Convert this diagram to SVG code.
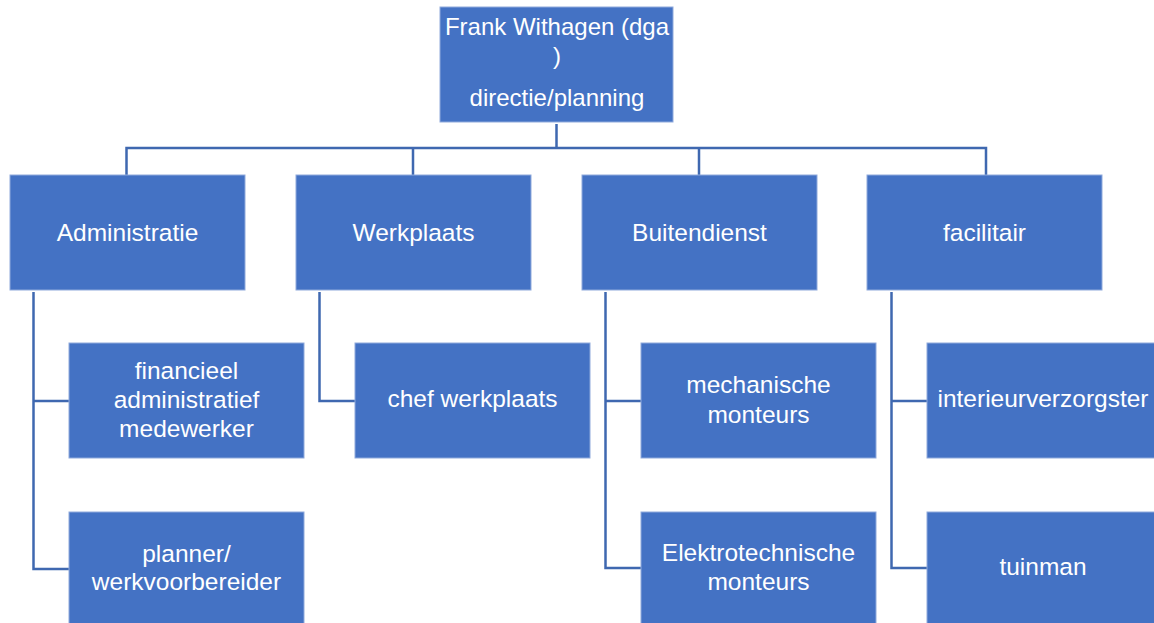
<svg xmlns="http://www.w3.org/2000/svg" width="1154" height="623" viewBox="0 0 1154 623">
<style>
.box{fill:#4472C4;stroke:#8FAADC;stroke-width:1}
.t{fill:#FFFFFF;font-family:"Liberation Sans",Arial,sans-serif;font-size:24.5px;text-anchor:middle}
.top{font-size:24px}
.c{fill:none;stroke:#3F68B0;stroke-width:2.5}
</style>
<rect width="1154" height="623" fill="#FFFFFF"/>
<g id="connectors">
<path class="c" d="M556.5 124V148M126.5 175V148H986V175M413 148V175M699 148V175"/>
<path class="c" d="M33.5 292V569H69M33.5 401H69"/>
<path class="c" d="M319.5 292V401H355"/>
<path class="c" d="M605.5 292V568H641M605.5 401H641"/>
<path class="c" d="M891.5 292V568H927M891.5 401H927"/>
</g>
<g id="n-top"><rect class="box" x="440" y="7" width="233" height="115"/>
<text class="t top" x="557" y="35">Frank Withagen (dga</text><text class="t top" x="557" y="64">)</text><text class="t top" x="557" y="106">directie/planning</text></g>
<g id="n-admin"><rect class="box" x="10" y="175" width="235" height="115"/><text class="t" x="127.5" y="241">Administratie</text></g>
<g id="n-werkplaats"><rect class="box" x="296" y="175" width="235" height="115"/><text class="t" x="413.5" y="241">Werkplaats</text></g>
<g id="n-buitendienst"><rect class="box" x="582" y="175" width="235" height="115"/><text class="t" x="699.5" y="241">Buitendienst</text></g>
<g id="n-facilitair"><rect class="box" x="867" y="175" width="235" height="115"/><text class="t" x="984.5" y="241">facilitair</text></g>
<g id="n-financieel"><rect class="box" x="69" y="343" width="235" height="115"/>
<text class="t" x="186.5" y="379">financieel</text><text class="t" x="186.5" y="408">administratief</text><text class="t" x="186.5" y="437">medewerker</text></g>
<g id="n-planner"><rect class="box" x="69" y="512" width="235" height="115"/>
<text class="t" x="186.5" y="562">planner/</text><text class="t" x="186.5" y="590">werkvoorbereider</text></g>
<g id="n-chef"><rect class="box" x="355" y="343" width="235" height="115"/><text class="t" x="472.5" y="407">chef werkplaats</text></g>
<g id="n-mech"><rect class="box" x="641" y="343" width="235" height="115"/>
<text class="t" x="758.5" y="393">mechanische</text><text class="t" x="758.5" y="423">monteurs</text></g>
<g id="n-elektro"><rect class="box" x="641" y="512" width="235" height="115"/>
<text class="t" x="758.5" y="561">Elektrotechnische</text><text class="t" x="758.5" y="590">monteurs</text></g>
<g id="n-interieur"><rect class="box" x="927" y="343" width="235" height="115"/><text class="t" x="1043" y="407">interieurverzorgster</text></g>
<g id="n-tuinman"><rect class="box" x="927" y="512" width="235" height="115"/><text class="t" x="1043" y="575">tuinman</text></g>
</svg>
